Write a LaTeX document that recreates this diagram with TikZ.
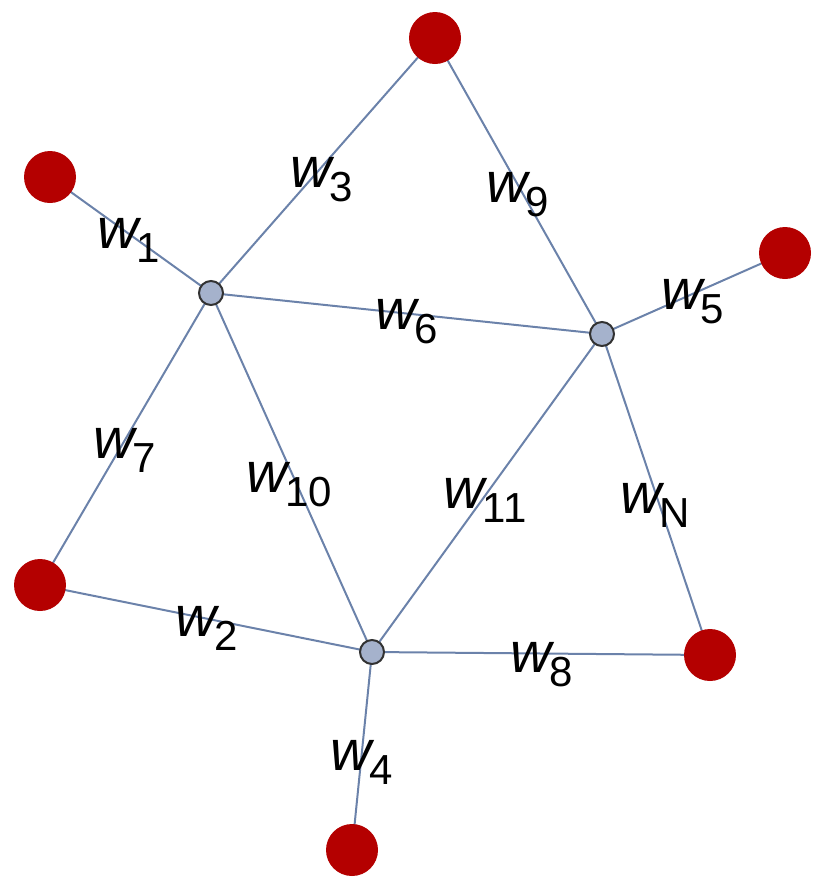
\documentclass[tikz,border=0pt]{standalone}
\usepackage{fontspec}
\setmainfont{Liberation Sans}
\definecolor{edgec}{RGB}{107,130,170}
\definecolor{redn}{RGB}{180,0,0}
\definecolor{grayn}{RGB}{165,178,204}
\newcommand\wl[1]{{\fontsize{57}{57}\selectfont\itshape w}\kern-2pt\raisebox{-14pt}{\fontsize{42}{42}\selectfont #1}}
\begin{document}
\begin{tikzpicture}[x=1pt,y=-1pt,
  edge/.style={draw=edgec,line width=2pt},
  rednode/.style={circle,fill=redn,minimum size=52pt,inner sep=0pt},
  graynode/.style={circle,fill=grayn,draw={rgb,255:red,50;green,50;blue,50},line width=2pt,minimum size=24pt,inner sep=0pt},
  lbl/.style={inner sep=0pt,anchor=center}]
\useasboundingbox (0,0) rectangle (830,895);
\coordinate (r1) at (50,177);
\coordinate (r2) at (435,38);
\coordinate (r3) at (785,253);
\coordinate (r4) at (40,585);
\coordinate (r5) at (710,655);
\coordinate (r6) at (352,850);
\coordinate (g1) at (211,293);
\coordinate (g2) at (602,334);
\coordinate (g3) at (372,652);
\draw[edge] (r1) -- (g1);
\draw[edge] (g3) -- (r4);
\draw[edge] (g1) -- (r2);
\draw[edge] (g3) -- (r6);
\draw[edge] (g2) -- (r3);
\draw[edge] (g1) -- (g2);
\draw[edge] (g1) -- (r4);
\draw[edge] (g3) -- (r5);
\draw[edge] (r2) -- (g2);
\draw[edge] (g1) -- (g3);
\draw[edge] (g3) -- (g2);
\draw[edge] (g2) -- (r5);
\foreach \n in {r1,r2,r3,r4,r5,r6} \node[rednode] (n\n) at (\n) {};
\foreach \n in {g1,g2,g3} \node[graynode] (n\n) at (\n) {};
\node[lbl] (l1) at (129,240) {\wl{1}};
\node[lbl] (l3) at (322,180) {\wl{3}};
\node[lbl] (l9) at (518,195) {\wl{9}};
\node[lbl] (l5) at (693,302) {\wl{5}};
\node[lbl] (l6) at (407,322) {\wl{6}};
\node[lbl] (l7) at (125,450) {\wl{7}};
\node[lbl] (l10) at (289,485) {\wl{10}};
\node[lbl] (l11) at (485,500) {\wl{11}};
\node[lbl] (lN) at (655,505) {\wl{N}};
\node[lbl] (l2) at (207,628) {\wl{2}};
\node[lbl] (l8) at (542,665) {\wl{8}};
\node[lbl] (l4) at (362,762) {\wl{4}};
\end{tikzpicture}
\end{document}
